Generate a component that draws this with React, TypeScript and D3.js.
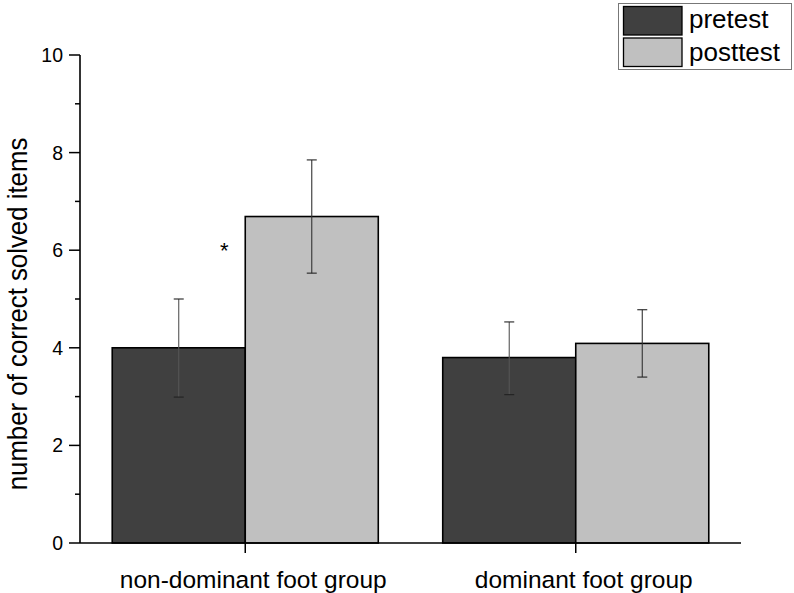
import React from "react";
import * as d3 from "d3";

const categories = ["non-dominant foot group", "dominant foot group"];
const seriesNames = ["pretest", "posttest"];
const means = [
  [4.0, 3.8],
  [6.69, 4.09],
];
const errLow = [
  [2.99, 3.04],
  [5.53, 3.4],
];
const errHigh = [
  [5.0, 4.53],
  [7.85, 4.78],
];
const yTicks = [0, 2, 4, 6, 8, 10];
const yMinor = [1, 3, 5, 7, 9];
const colors = ["#404040", "#c0c0c0"];

export default function App() {
  const W = 794, H = 593;
  const left = 80, right = 741, top = 55, bottom = 543;
  const x = d3.scaleBand().domain(categories).range([left, right]).paddingInner(0.195).paddingOuter(0.0975);
  const y = d3.scaleLinear().domain([0, 10]).range([bottom, top]);
  const font = "Arial, 'Liberation Sans', sans-serif";
  const bw = x.bandwidth() / 2;

  return (
    <svg width={W} height={H} style={{ position: "absolute", left: 0, top: 0, background: "#fff" }} fontFamily={font}>
      {categories.map((c, ci) =>
        seriesNames.map((s, si) => {
          const x0 = (x(c) as number) + si * bw;
          return (
            <g key={c + s}>
              <rect x={x0} y={y(means[si][ci])} width={bw} height={bottom - y(means[si][ci])} fill={colors[si]} stroke="#000" strokeWidth={1.6} />
            </g>
          );
        })
      )}
      {categories.map((c, ci) =>
        seriesNames.map((s, si) => {
          const cx = (x(c) as number) + si * bw + bw / 2;
          return (
            <g key={"e" + c + s} stroke="#222" strokeWidth={1.1}>
              <line x1={cx} x2={cx} y1={y(errLow[si][ci])} y2={y(errHigh[si][ci])} stroke={si === 0 ? "#555" : "#333"} />
              <line x1={cx - 5} x2={cx + 5} y1={y(errLow[si][ci])} y2={y(errLow[si][ci])} />
              <line x1={cx - 5} x2={cx + 5} y1={y(errHigh[si][ci])} y2={y(errHigh[si][ci])} />
            </g>
          );
        })
      )}
      <text x={(x(categories[0]) as number) + bw - 21} y={y(5.85)} fontSize={22} textAnchor="middle">*</text>
      {/* y axis */}
      <line x1={left} x2={left} y1={top} y2={bottom} stroke="#000" strokeWidth={1.6} />
      {yTicks.map((t) => (
        <g key={t}>
          <line x1={left - 11} x2={left} y1={y(t)} y2={y(t)} stroke="#000" strokeWidth={1.5} />
          <text x={left - 17} y={y(t)} dy="0.36em" textAnchor="end" fontSize={19.5}>{t}</text>
        </g>
      ))}
      {yMinor.map((t) => (
        <line key={t} x1={left - 5} x2={left} y1={y(t)} y2={y(t)} stroke="#000" strokeWidth={1.5} />
      ))}
      <text transform={`translate(27,314) rotate(-90) scale(1,1.08)`} textAnchor="middle" fontSize={25.8}>number of correct solved items</text>
      {/* x axis */}
      <line x1={left} x2={right} y1={bottom} y2={bottom} stroke="#000" strokeWidth={1.6} />
      {categories.map((c) => {
        const cx = (x(c) as number) + x.bandwidth() / 2;
        return (
          <g key={c}>
            <line x1={cx} x2={cx} y1={bottom} y2={bottom + 10} stroke="#000" strokeWidth={1.5} />
            <text x={cx + 8} y={bottom + 45} textAnchor="middle" fontSize={24.5}>{c}</text>
          </g>
        );
      })}
      {/* legend */}
      <rect x={618.5} y={3.5} width={173} height={66} fill="#fff" stroke="#777" strokeWidth={1} />
      {seriesNames.map((s, i) => (
        <g key={s}>
          <rect x={623.5} y={6.5 + i * 31.5} width={58.5} height={28.5} fill={colors[i]} stroke="#000" strokeWidth={1.3} />
          <text x={689} y={28 + i * 33} fontSize={26}>{s}</text>
        </g>
      ))}
    </svg>
  );
}
